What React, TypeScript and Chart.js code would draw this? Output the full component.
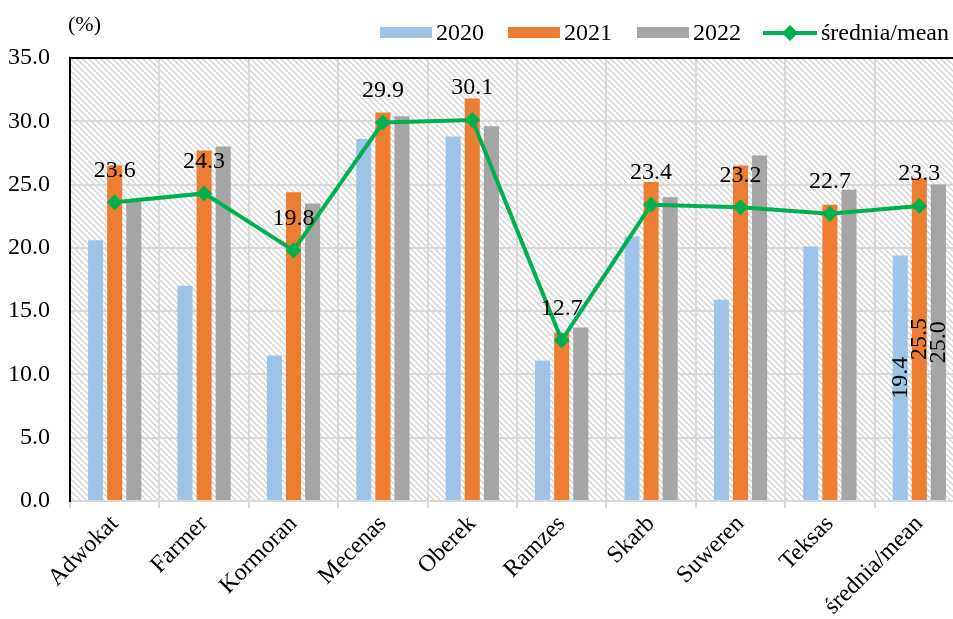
import React, { useEffect, useRef } from 'react';
import { Chart, registerables } from 'chart.js';

Chart.register(...registerables);

const categories = ['Adwokat', 'Farmer', 'Kormoran', 'Mecenas', 'Oberek', 'Ramzes', 'Skarb', 'Suweren', 'Teksas', 'średnia/mean'];
const values2020 = [20.6, 17.0, 11.5, 28.6, 28.8, 11.1, 20.9, 15.9, 20.1, 19.4];
const values2021 = [26.5, 27.7, 24.4, 30.7, 31.8, 13.3, 25.2, 26.5, 23.4, 25.5];
const values2022 = [23.8, 28.0, 23.5, 30.4, 29.6, 13.7, 24.0, 27.3, 24.6, 25.0];
const meanValues = [23.6, 24.3, 19.8, 29.9, 30.1, 12.7, 23.4, 23.2, 22.7, 23.3];
const seriesNames = ['2020', '2021', '2022', 'średnia/mean'];
const yTicks = [0, 5, 10, 15, 20, 25, 30, 35];
const unitLabel = '(%)';

const COLORS = ['#9DC3E6', '#ED7D31', '#A5A5A5', '#00B050'];
const FONT = "'Liberation Serif', 'Times New Roman', serif";

export default function App() {
  const ref = useRef<HTMLCanvasElement>(null);

  useEffect(() => {
    const canvas = ref.current!;
    const pc = document.createElement('canvas');
    pc.width = 6;
    pc.height = 6;
    const p = pc.getContext('2d')!;
    p.fillStyle = '#ffffff';
    p.fillRect(0, 0, 6, 6);
    p.strokeStyle = '#d4d4d4';
    p.lineWidth = 1.4;
    p.beginPath();
    p.moveTo(-1, -1); p.lineTo(7, 7);
    p.moveTo(-1, 5); p.lineTo(1, 7);
    p.moveTo(5, -1); p.lineTo(7, 1);
    p.stroke();
    const pattern = canvas.getContext('2d')!.createPattern(pc, 'repeat');

    const bgPlugin = {
      id: 'bgPlugin',
      beforeDraw(chart: any) {
        const { ctx, chartArea: a } = chart;
        ctx.save();
        ctx.fillStyle = '#ffffff';
        ctx.fillRect(0, 0, chart.width, chart.height);
        ctx.fillStyle = pattern as any;
        ctx.fillRect(a.left, a.top, a.right - a.left, a.bottom - a.top);
        ctx.restore();
      },
    };

    const labelPlugin = {
      id: 'labelPlugin',
      afterDatasetsDraw(chart: any) {
        const { ctx } = chart;
        ctx.save();
        ctx.fillStyle = '#000000';
        ctx.font = `24px ${FONT}`;
        ctx.textAlign = 'center';
        ctx.textBaseline = 'middle';
        const lineMeta = chart.getDatasetMeta(3);
        lineMeta.data.forEach((pt: any, i: number) => {
          ctx.fillText(meanValues[i].toFixed(1), pt.x, pt.y - 32);
        });
        const last = categories.length - 1;
        [0, 1, 2].forEach((di) => {
          const bar: any = chart.getDatasetMeta(di).data[last];
          const v = (chart.data.datasets[di].data as number[])[last];
          const cy = (bar.y + bar.base) / 2;
          ctx.save();
          ctx.translate(bar.x, cy);
          ctx.rotate(-Math.PI / 2);
          ctx.fillText(v.toFixed(1), 0, 0);
          ctx.restore();
        });
        ctx.restore();
      },
    };

    const decorPlugin = {
      id: 'decorPlugin',
      afterDraw(chart: any) {
        const { ctx, chartArea: a } = chart;
        ctx.save();
        ctx.strokeStyle = '#000000';
        ctx.lineWidth = 2;
        ctx.beginPath();
        ctx.moveTo(a.left - 1, a.top);
        ctx.lineTo(a.right, a.top);
        ctx.stroke();

        ctx.fillStyle = '#000000';
        ctx.font = `22px ${FONT}`;
        ctx.textAlign = 'left';
        ctx.textBaseline = 'middle';
        ctx.fillText(unitLabel, 68, 25);

        // legend
        ctx.font = `24px ${FONT}`;
        const ly = 33;
        const boxX = [380, 508, 637];
        for (let i = 0; i < 3; i++) {
          ctx.fillStyle = COLORS[i];
          ctx.fillRect(boxX[i], ly - 6, 52, 11);
          ctx.fillStyle = '#000000';
          ctx.fillText(seriesNames[i], boxX[i] + 56, ly + 1);
        }
        const lx = 763;
        ctx.strokeStyle = COLORS[3];
        ctx.lineWidth = 4;
        ctx.beginPath();
        ctx.moveTo(lx, ly);
        ctx.lineTo(lx + 54, ly);
        ctx.stroke();
        ctx.fillStyle = COLORS[3];
        ctx.beginPath();
        ctx.moveTo(lx + 27, ly - 8);
        ctx.lineTo(lx + 35, ly);
        ctx.lineTo(lx + 27, ly + 8);
        ctx.lineTo(lx + 19, ly);
        ctx.closePath();
        ctx.fill();
        ctx.fillStyle = '#000000';
        ctx.fillText(seriesNames[3], lx + 58, ly + 1);
        ctx.restore();
      },
    };

    const barCommon = {
      type: 'bar' as const,
      categoryPercentage: 0.64,
      barPercentage: 0.79,
      order: 2,
    };

    const chart = new Chart(canvas, {
      type: 'bar',
      data: {
        labels: categories,
        datasets: [
          { ...barCommon, label: seriesNames[0], data: values2020, backgroundColor: COLORS[0] },
          { ...barCommon, label: seriesNames[1], data: values2021, backgroundColor: COLORS[1] },
          { ...barCommon, label: seriesNames[2], data: values2022, backgroundColor: COLORS[2] },
          {
            type: 'line' as const,
            label: seriesNames[3],
            data: meanValues,
            borderColor: COLORS[3],
            backgroundColor: COLORS[3],
            borderWidth: 4,
            pointStyle: 'rectRot',
            pointRadius: 8,
            pointBackgroundColor: COLORS[3],
            pointBorderColor: COLORS[3],
            pointBorderWidth: 0,
            tension: 0,
            order: 0,
          } as any,
        ],
      },
      options: {
        responsive: false,
        animation: false,
        devicePixelRatio: 1,
        layout: { padding: { top: 58, left: 0, right: 0, bottom: 0 } },
        plugins: {
          legend: { display: false },
          tooltip: { enabled: false },
        },
        scales: {
          x: {
            offset: true,
            grid: { offset: true, color: '#D9D9D9', lineWidth: 2, tickLength: 7, drawTicks: true },
            border: { color: '#D9D9D9', width: 2 },
            ticks: {
              maxRotation: 45,
              minRotation: 45,
              color: '#000000',
              font: { family: FONT, size: 24 },
              padding: 2,
              autoSkip: false,
            },
            afterFit(scale: any) { scale.height = 118; },
          },
          y: {
            min: 0,
            max: 35,
            afterBuildTicks(scale: any) { scale.ticks = yTicks.map((v) => ({ value: v })); },
            grid: { color: '#D9D9D9', lineWidth: 2, drawTicks: false },
            border: { color: '#000000', width: 2 },
            ticks: {
              color: '#000000',
              font: { family: FONT, size: 24 },
              padding: 20,
              callback: (v: any) => Number(v).toFixed(1),
            },
            afterFit(scale: any) { scale.width = 70; },
          },
        },
      },
      plugins: [bgPlugin, labelPlugin, decorPlugin],
    });
    return () => chart.destroy();
  }, []);

  return (
    <div style={{ position: 'fixed', left: 0, top: 0, width: 953, height: 619, overflow: 'hidden', background: '#ffffff' }}>
      <canvas ref={ref} width={972} height={619} style={{ display: 'block', width: 972, height: 619 }} />
    </div>
  );
}
